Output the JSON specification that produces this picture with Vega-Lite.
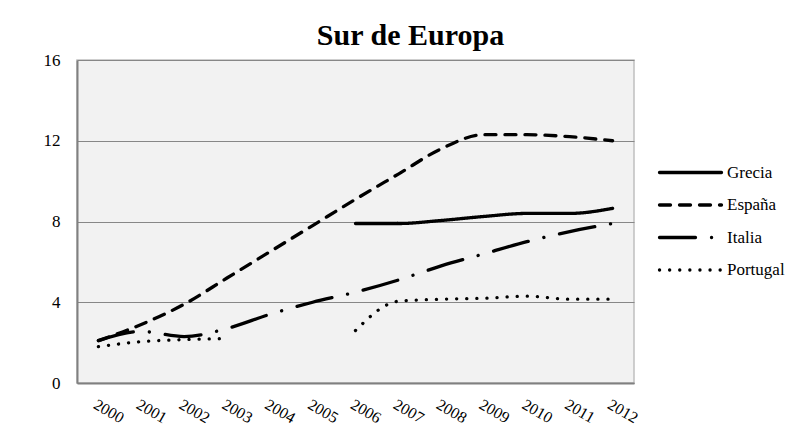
{
  "$schema": "https://vega.github.io/schema/vega-lite/v6.json",
  "width": 557,
  "height": 323,
  "autosize": {"type": "none"},
  "padding": {"left": 77, "top": 60, "right": 174, "bottom": 47},
  "background": "white",
  "title": {"text": "Sur de Europa", "font": "Liberation Serif", "fontSize": 30, "fontWeight": "bold", "color": "black", "anchor": "middle", "frame": "group", "dx": 55, "dy": 37, "offset": 13, "baseline": "alphabetic"},
  "config": {"view": {"fill": "#f2f2f2", "stroke": "#c0c0c0", "strokeWidth": 1.5}},
  "data": {"values": [
    {"year": "2006", "country": "Grecia", "value": 7.9},
    {"year": "2007", "country": "Grecia", "value": 7.9},
    {"year": "2008", "country": "Grecia", "value": 8.05},
    {"year": "2009", "country": "Grecia", "value": 8.25},
    {"year": "2010", "country": "Grecia", "value": 8.4},
    {"year": "2011", "country": "Grecia", "value": 8.4},
    {"year": "2012", "country": "Grecia", "value": 8.65},
    {"year": "2000", "country": "España", "value": 2.1},
    {"year": "2001", "country": "España", "value": 2.9},
    {"year": "2002", "country": "España", "value": 3.9},
    {"year": "2003", "country": "España", "value": 5.2},
    {"year": "2004", "country": "España", "value": 6.5},
    {"year": "2005", "country": "España", "value": 7.8},
    {"year": "2006", "country": "España", "value": 9.1},
    {"year": "2007", "country": "España", "value": 10.35},
    {"year": "2008", "country": "España", "value": 11.6},
    {"year": "2009", "country": "España", "value": 12.3},
    {"year": "2010", "country": "España", "value": 12.3},
    {"year": "2011", "country": "España", "value": 12.2},
    {"year": "2012", "country": "España", "value": 12.0},
    {"year": "2000", "country": "Italia", "value": 2.1},
    {"year": "2001", "country": "Italia", "value": 2.55},
    {"year": "2002", "country": "Italia", "value": 2.3},
    {"year": "2003", "country": "Italia", "value": 2.7},
    {"year": "2004", "country": "Italia", "value": 3.4},
    {"year": "2005", "country": "Italia", "value": 4.0},
    {"year": "2006", "country": "Italia", "value": 4.5},
    {"year": "2007", "country": "Italia", "value": 5.1},
    {"year": "2008", "country": "Italia", "value": 5.8},
    {"year": "2009", "country": "Italia", "value": 6.4},
    {"year": "2010", "country": "Italia", "value": 7.0},
    {"year": "2011", "country": "Italia", "value": 7.5},
    {"year": "2012", "country": "Italia", "value": 7.9},
    {"year": "2000", "country": "Portugal", "value": 1.8},
    {"year": "2001", "country": "Portugal", "value": 2.05},
    {"year": "2002", "country": "Portugal", "value": 2.15},
    {"year": "2003", "country": "Portugal", "value": 2.2},
    {"year": "2004", "country": "Portugal", "value": null},
    {"year": "2005", "country": "Portugal", "value": null},
    {"year": "2006", "country": "Portugal", "value": 2.6},
    {"year": "2007", "country": "Portugal", "value": 4.05},
    {"year": "2008", "country": "Portugal", "value": 4.15},
    {"year": "2009", "country": "Portugal", "value": 4.2},
    {"year": "2010", "country": "Portugal", "value": 4.3},
    {"year": "2011", "country": "Portugal", "value": 4.15},
    {"year": "2012", "country": "Portugal", "value": 4.15}
  ]},
  "mark": {"type": "line", "strokeWidth": 3.3, "color": "black", "strokeCap": "round", "interpolate": "monotone"},
  "encoding": {
    "x": {
      "field": "year", "type": "ordinal",
      "scale": {"type": "point", "padding": 0.5},
      "axis": {"title": null, "domainColor": "#808080", "domainWidth": 2, "ticks": false, "grid": false, "labelAngle": 30, "labelAlign": "left", "labelBaseline": "top", "labelPadding": 13, "labelFont": "Liberation Serif", "labelFontSize": 16, "labelColor": "black"}
    },
    "y": {
      "field": "value", "type": "quantitative",
      "scale": {"domain": [0, 16]},
      "axis": {"title": null, "values": [0, 4, 8, 12, 16], "grid": true, "gridColor": "#878787", "gridWidth": 1, "domainColor": "#808080", "domainWidth": 2, "ticks": false, "labelPadding": 17, "labelFont": "Liberation Serif", "labelFontSize": 17, "labelColor": "black"}
    },
    "strokeDash": {
      "field": "country", "type": "nominal",
      "scale": {"domain": ["Grecia", "España", "Italia", "Portugal"], "range": [[1, 0], [11, 9], [36, 16, 0.1, 16], [0.1, 10]]},
      "legend": {
        "title": null, "orient": "none", "legendX": 605, "legendY": 104,
        "symbolType": "M-10,0H10", "symbolSize": 38.44, "symbolStrokeWidth": 3.3, "symbolStrokeColor": "black",
        "labelFont": "Liberation Serif", "labelFontSize": 17, "labelColor": "black", "labelOffset": 28, "rowPadding": 14.5,
        "encode": {"symbols": {"update": {"strokeCap": {"value": "round"}, "stroke": {"value": "black"}}}}
      }
    }
  }
}
